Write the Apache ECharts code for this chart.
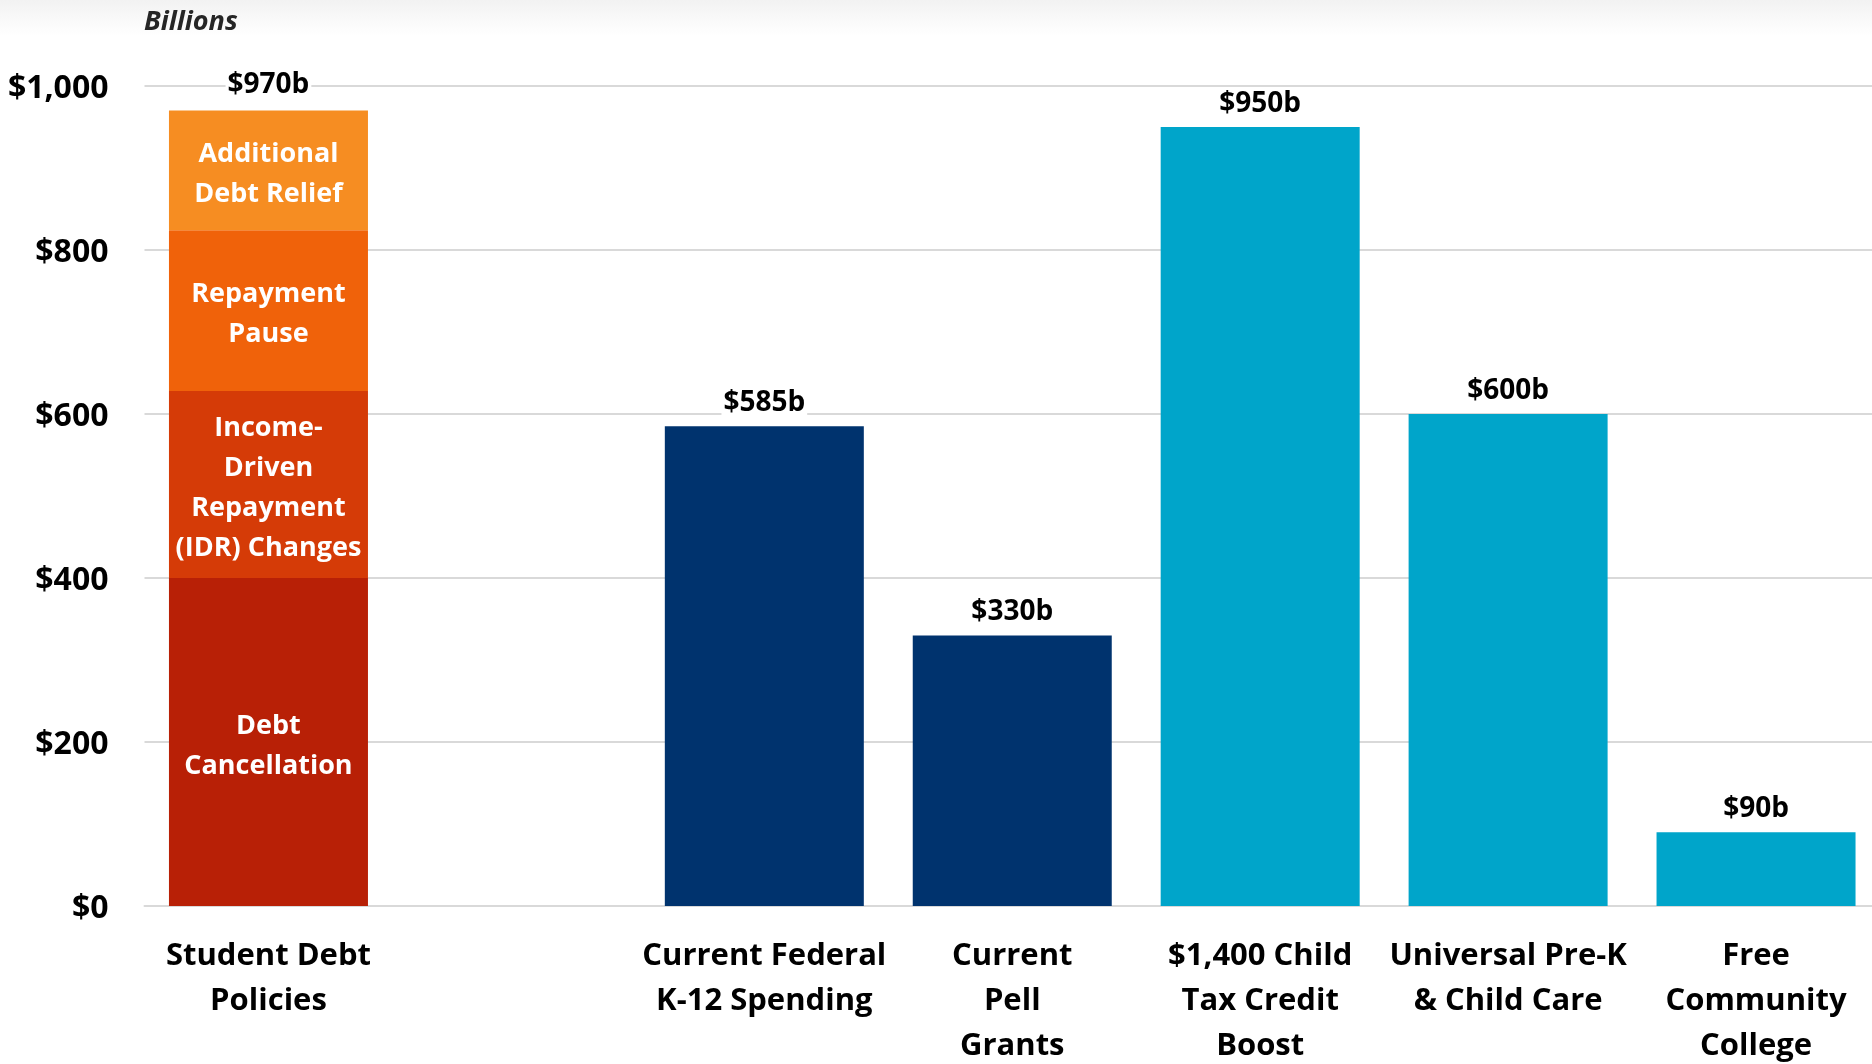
<!DOCTYPE html>
<html>
<head>
<meta charset="utf-8">
<script src="https://cdn.jsdelivr.net/npm/echarts@6/dist/echarts.min.js"></script>
<style>
  html, body { margin: 0; padding: 0; background: #ffffff; }
  #chart { width: 1872px; height: 1064px; }
</style>
</head>
<body>
<div id="chart"></div>
<script>
// Categories along the x axis (the blank slot separates the debt policies from the comparisons)
const categories = [
  'Student Debt\nPolicies',
  '',
  'Current Federal\nK-12 Spending',
  'Current\nPell\nGrants',
  '$1,400 Child\nTax Credit\nBoost',
  'Universal Pre-K\n& Child Care',
  'Free\nCommunity\nCollege'
];

// Student debt policy components, bottom to top (billions)
const debtParts = ['Debt\nCancellation', 'Income-\nDriven\nRepayment\n(IDR) Changes', 'Repayment\nPause', 'Additional\nDebt Relief'];
const debtValues = [400, 228, 196, 146];

// Current federal education spending (billions)
const currentSpending = [null, null, 585, 330, null, null, null];

// Proposed / alternative programs (billions)
const proposals = [null, null, null, null, 950, 600, 90];

// Value axis ticks
const yMin = 0;
const yMax = 1000;
const yStep = 200;

const debtColors = ['#B82006', '#D53B07', '#F0620A', '#F68D22'];
const navy = '#00336E';
const teal = '#00A5CA';
const font = '"Open Sans", "Noto Sans", sans-serif';

const debtTotal = debtValues.reduce((a, b) => a + b, 0);
const fmtBillions = v => '$' + v + 'b';

function valueLabel(distance) {
  return {
    show: true,
    position: 'top',
    distance: distance,
    fontFamily: font,
    fontWeight: 'bold',
    fontSize: 28,
    lineHeight: 30,
    color: '#000000',
    opacity: 1,
    backgroundColor: '#ffffff',
    padding: [0, 2],
    formatter: p => fmtBillions(Array.isArray(p.value) ? p.value[1] : p.value)
  };
}

const barWidth = 199;

const series = debtParts.map((name, i) => ({
  name: name,
  type: 'bar',
  stack: 'all',
  barWidth: barWidth,
  itemStyle: { color: debtColors[i] },
  label: {
    show: true,
    position: 'inside',
    offset: [0, 4],
    fontFamily: font,
    fontWeight: 'bold',
    fontSize: 27,
    lineHeight: 40,
    color: '#ffffff',
    align: 'center',
    formatter: () => name
  },
  data: categories.map((c, k) => (k === 0 ? debtValues[i] : null))
}));

series.push({
  name: 'Current spending',
  type: 'bar',
  stack: 'all',
  barWidth: barWidth,
  itemStyle: { color: navy },
  label: valueLabel(8),
  data: currentSpending
});

series.push({
  name: 'Proposals',
  type: 'bar',
  stack: 'all',
  barWidth: barWidth,
  itemStyle: { color: teal },
  label: valueLabel(8),
  data: proposals
});

// Total for the stacked student debt column
series.push({
  name: 'Student debt total',
  type: 'scatter',
  symbolSize: 0,
  z: 5,
  itemStyle: { opacity: 1 },
  label: valueLabel(11),
  data: [[categories[0], debtTotal]]
});

const chart = echarts.init(document.getElementById('chart'), null, { renderer: 'canvas' });

chart.setOption({
  animation: false,
  backgroundColor: '#ffffff',
  textStyle: { fontFamily: font },
  graphic: [
    {
      type: 'rect',
      left: 0, top: 0, z: -10,
      shape: { width: 1872, height: 36 },
      style: {
        fill: new echarts.graphic.LinearGradient(0, 0, 0, 1, [
          { offset: 0, color: '#f2f2f2' },
          { offset: 1, color: '#ffffff' }
        ])
      }
    },
    {
      type: 'text',
      left: 144, top: 9,
      style: {
        text: 'Billions',
        font: 'italic bold 27px ' + font,
        fill: '#262626'
      }
    }
  ],
  grid: {
    left: 144.5,
    width: 1735.5,
    top: 86,
    height: 820,
    containLabel: false,
    outerBoundsMode: 'none'
  },
  xAxis: {
    type: 'category',
    data: categories,
    axisLine: { show: true, lineStyle: { color: '#d9d9d9', width: 2 } },
    axisTick: { show: false },
    axisLabel: {
      interval: 0,
      margin: 28,
      fontFamily: font,
      fontWeight: 'bold',
      fontSize: 31,
      lineHeight: 45,
      color: '#000000',
      verticalAlign: 'top'
    }
  },
  yAxis: {
    type: 'value',
    min: yMin,
    max: yMax,
    interval: yStep,
    axisLine: { show: false },
    axisTick: { show: false },
    splitLine: { lineStyle: { color: '#d9d9d9', width: 2 } },
    axisLabel: {
      margin: 36,
      fontFamily: font,
      fontWeight: 'bold',
      fontSize: 32,
      color: '#000000',
      formatter: v => '{t|$' + v.toLocaleString('en-US') + '}',
      rich: {
        t: {
          fontFamily: font,
          fontWeight: 'bold',
          fontSize: 32,
          color: '#000000',
          padding: [5, 0, 0, 0]
        }
      }
    }
  },
  series: series
});
</script>
</body>
</html>
